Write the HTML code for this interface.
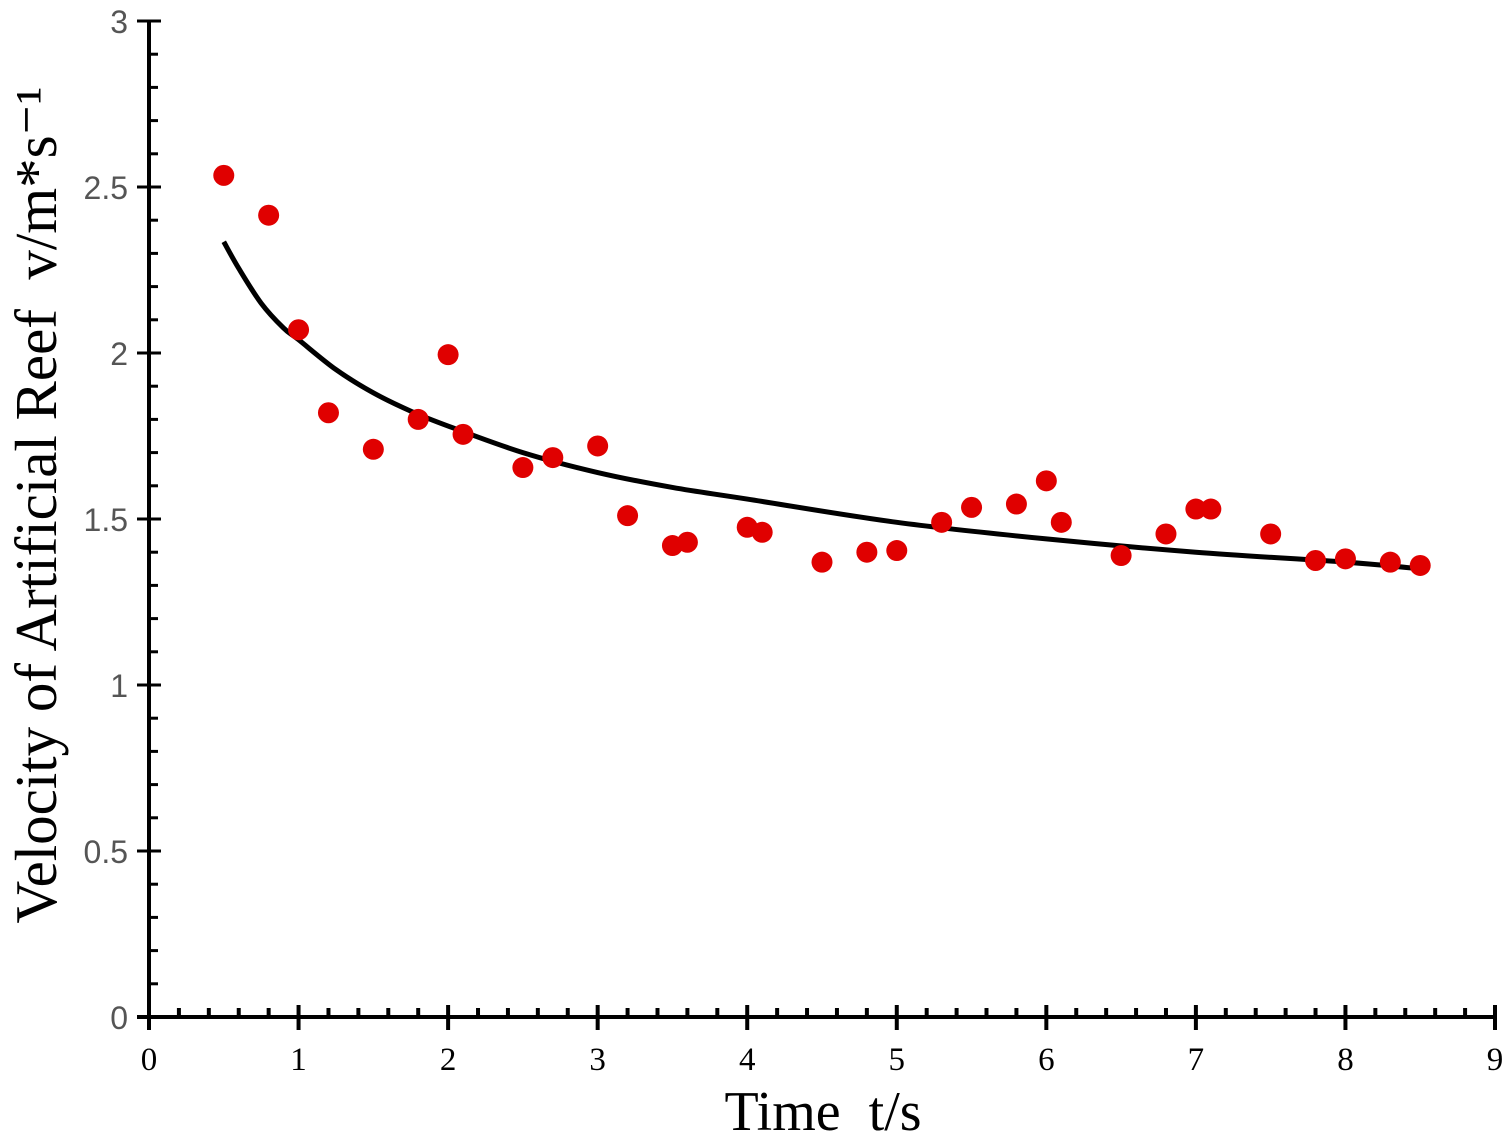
<!DOCTYPE html>
<html><head><meta charset="utf-8"><style>body{margin:0;background:#fff}text{white-space:pre}</style></head>
<body>
<svg id="chart" width="1511" height="1141" xmlns="http://www.w3.org/2000/svg">
<g id="axes"></g><g id="curve"></g><g id="pts"></g>
<text x="823" y="1130" text-anchor="middle" font-family="Liberation Serif, serif" font-size="56" xml:space="preserve">Time  t/s</text>
<text transform="translate(56,505) rotate(-90)" text-anchor="middle" font-family="Liberation Serif, serif" font-size="59" xml:space="preserve">Velocity of Artificial Reef  v/m*s⁻¹</text>
</svg>
<script>
const timeValues=[0.5,0.8,1.0,1.2,1.5,1.8,2.0,2.1,2.5,2.7,3.0,3.2,3.5,3.6,4.0,4.1,4.5,4.8,5.0,5.3,5.5,5.8,6.0,6.1,6.5,6.8,7.0,7.1,7.5,7.8,8.0,8.3,8.5];
const velocityValues=[2.535,2.415,2.07,1.82,1.71,1.80,1.995,1.755,1.655,1.685,1.72,1.51,1.42,1.43,1.475,1.46,1.37,1.40,1.405,1.49,1.535,1.545,1.615,1.49,1.39,1.455,1.53,1.53,1.455,1.375,1.38,1.37,1.36];
const fitTimes=[0.5,0.6,0.75,0.9,1,1.25,1.5,1.75,2,2.5,3,3.5,4,5,6,7,8,8.5];
const fitValues=[2.335,2.255,2.15,2.075,2.04,1.95,1.88,1.825,1.78,1.70,1.64,1.595,1.56,1.49,1.44,1.40,1.37,1.35];
const xTicks=[0,1,2,3,4,5,6,7,8,9];
const yTicks=[0,0.5,1,1.5,2,2.5,3];
const yTickLabels=["0","0.5","1","1.5","2","2.5","3"];
const X=v=>149+v*(1495-149)/9, Y=v=>1017-v*(1017-21)/3;
const NS="http://www.w3.org/2000/svg";
function mk(p,t,a){const e=document.createElementNS(NS,t);for(const k in a)e.setAttribute(k,a[k]);p.appendChild(e);return e;}
const ax=document.getElementById('axes');
let l=mk(ax,'line',{x1:149,y1:21,x2:149,y2:1030,stroke:'#000','stroke-width':4});


l=mk(ax,'line',{x1:137,y1:1017,x2:1497,y2:1017,stroke:'#000','stroke-width':4});


for(let i=0;i<=45;i++){const v=i*0.2;const major=i%5==0;const x=X(v);
 const t=mk(ax,'line',{x1:x,y1:major?1005:1008,x2:x,y2:major?1030:1017,stroke:'#000','stroke-width':4});
 
 }
xTicks.forEach(v=>{const t=mk(ax,'text',{x:X(v),y:1070,'text-anchor':'middle','font-family':'Liberation Serif, serif','font-size':33});t.textContent=v;
 
 });
for(let i=0;i<=30;i++){const v=i*0.1;const major=i%5==0;const y=Y(v);
 const t=mk(ax,'line',{x1:major?137:149,y1:y,x2:major?161:158,y2:y,stroke:'#000','stroke-width':3});
 
 }
yTicks.forEach((v,i)=>{const t=mk(ax,'text',{x:128,y:Y(v)+12,'text-anchor':'end','font-family':'Liberation Sans, sans-serif','font-size':32,fill:'#555'});t.textContent=yTickLabels[i];
 
 });
const cg=document.getElementById('curve');
const pts=fitTimes.map((t,i)=>[X(t),Y(fitValues[i])]);
let d='M'+pts[0][0]+','+pts[0][1];
for(let i=0;i<pts.length-1;i++){const p0=pts[Math.max(0,i-1)],p1=pts[i],p2=pts[i+1],p3=pts[Math.min(pts.length-1,i+2)];
 d+=` C${p1[0]+(p2[0]-p0[0])/6},${p1[1]+(p2[1]-p0[1])/6} ${p2[0]-(p3[0]-p1[0])/6},${p2[1]-(p3[1]-p1[1])/6} ${p2[0]},${p2[1]}`;}
const fit=mk(cg,'path',{d:d,fill:'none',stroke:'#000','stroke-width':5});


const pg=document.getElementById('pts');
timeValues.forEach((t,i)=>{const c=mk(pg,'circle',{cx:X(t),cy:Y(velocityValues[i]),r:10.5,fill:'#e00000'});
 
 });
</script>
</body></html>
